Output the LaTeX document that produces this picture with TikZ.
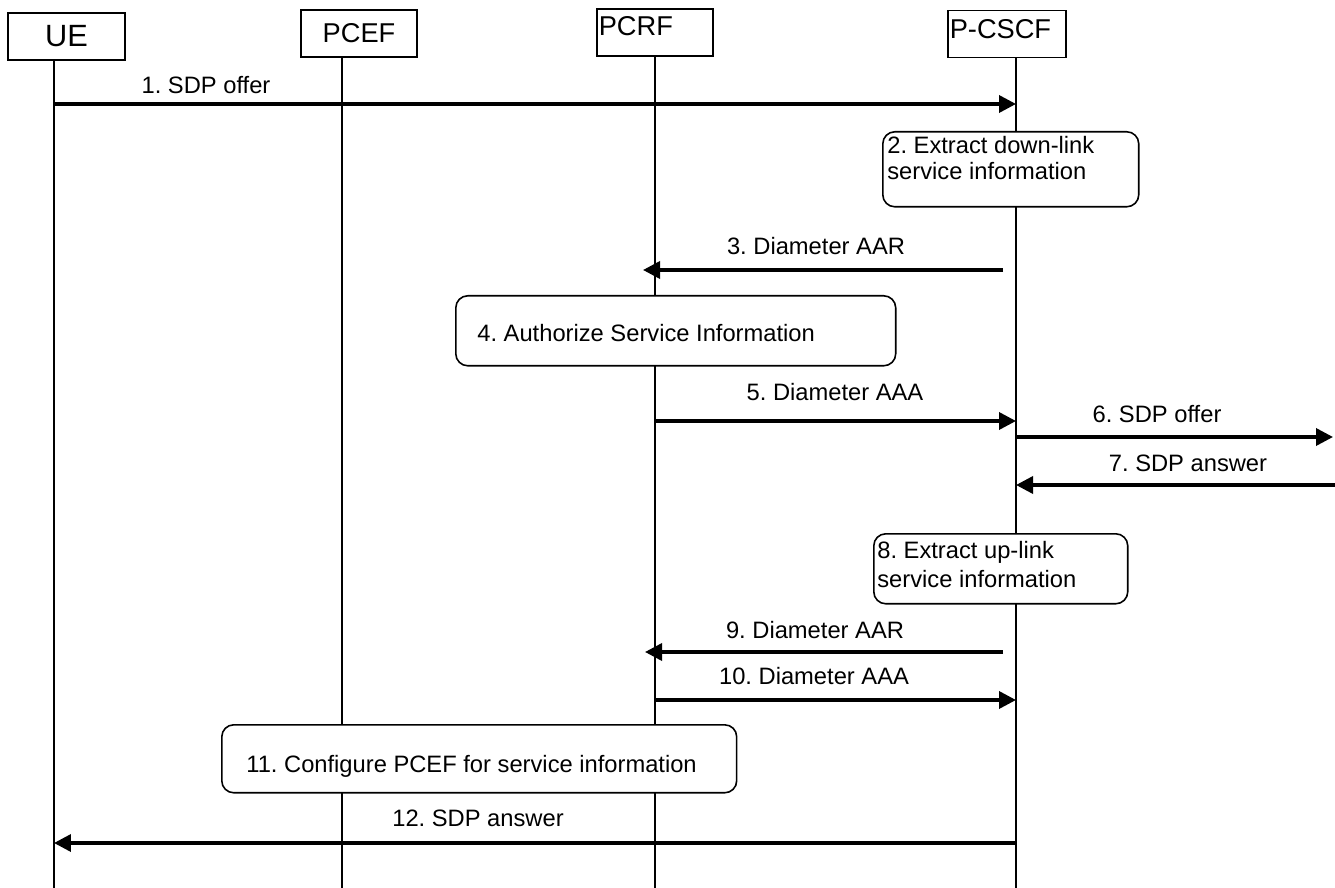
\documentclass[tikz,border=0pt]{standalone}
\usepackage{fontspec}
\setmainfont{Liberation Sans}
\frenchspacing
\usetikzlibrary{arrows.meta}

\begin{document}
\begin{tikzpicture}[x=0.02cm,y=-0.02cm,
		entity/.style={draw, line width=0.9pt, minimum height=0.94cm, inner sep=1pt, font=\fontsize{15.5}{18}\selectfont},
		life/.style={line width=0.9pt},
		msg/.style={line width=2pt, -{Triangle[length=0.34cm,width=0.34cm]}},
		stepbox/.style={draw, fill=white, rounded corners=0.24cm, line width=0.9pt, anchor=north west},
		lbl/.style={font=\fontsize{13.5}{15.5}\selectfont, inner sep=0pt}]
			\useasboundingbox (0,0) rectangle (1335,888);
			%--
			\node[entity, minimum width=2.34cm, font=\fontsize{17.5}{20}\selectfont] (UE) at (66.5,36.5) {UE};
			\node[entity, minimum width=2.32cm] (PCEF) at (359,33.5) {PCEF};
			\node[entity, text width=2.25cm, align=left, text depth=7pt] (PCRF) at (655,32.5) {PCRF};
			\node[entity, text width=2.29cm, align=left, text depth=6pt] (PCSCF) at (1007,34) {P-CSCF};
			\foreach \n/\x in {ue/54,pcef/342,pcrf/655,pcscf/1016,ext/1335}
				\coordinate (\n) at (\x,888);
			\draw[life] (UE.south -| ue) -- (ue);
			\draw[life] (PCEF.south -| pcef) -- (pcef);
			\draw[life] (PCRF.south -| pcrf) -- (pcrf);
			\draw[life] (PCSCF.south -| pcscf) -- (pcscf);
			%--
			\draw[msg] (ue |- 0,104) -- (pcscf |- 0,104);
			\node[lbl] (m1) at (206,85) {1. SDP offer};
			\node[stepbox, minimum width=5.12cm, minimum height=1.5cm] (s2) at (882,131) {};
			\node[lbl, anchor=north west, align=left, font=\fontsize{13.5}{14.8}\selectfont] (s2t) at (887,136) {2. Extract down-link\\service information};
			\draw[msg, shorten <=0.26cm, shorten >=-0.24cm] (pcscf |- 0,270) -- (pcrf |- 0,270);
			\node[lbl] (m3) at (816,246) {3. Diameter AAR};
			\node[stepbox, minimum width=8.8cm, minimum height=1.4cm] (s4) at (455,295) {};
			\node[lbl, anchor=west] (s4t) at (477,333) {4. Authorize Service Information};
			\draw[msg] (pcrf |- 0,421) -- (pcscf |- 0,421);
			\node[lbl] (m5) at (835,392) {5. Diameter AAA};
			\draw[msg, shorten >=0.04cm] (pcscf |- 0,437) -- (ext |- 0,437);
			\node[lbl] (m6) at (1157,414) {6. SDP offer};
			\draw[msg] (ext |- 0,485) -- (pcscf |- 0,485);
			\node[lbl] (m7) at (1188,463) {7. SDP answer};
			\node[stepbox, minimum width=5.08cm, minimum height=1.4cm] (s8) at (873,533) {};
			\node[lbl, anchor=north west, align=left, font=\fontsize{13.5}{16.5}\selectfont] (s8t) at (877,541) {8. Extract up-link\\service information};
			\draw[msg, shorten <=0.26cm, shorten >=-0.2cm] (pcscf |- 0,652) -- (pcrf |- 0,652);
			\node[lbl] (m9) at (815,630) {9. Diameter AAR};
			\draw[msg] (pcrf |- 0,700) -- (pcscf |- 0,700);
			\node[lbl] (m10) at (814,676) {10. Diameter AAA};
			\node[stepbox, minimum width=10.3cm, minimum height=1.36cm] (s11) at (221,724) {};
			\node[lbl, anchor=west] (s11t) at (246,766) {11. Configure PCEF for service information};
			\draw[msg] (pcscf |- 0,843) -- (ue |- 0,843);
			\node[lbl] (m12) at (478,818) {12. SDP answer};
		\end{tikzpicture}
\end{document}
